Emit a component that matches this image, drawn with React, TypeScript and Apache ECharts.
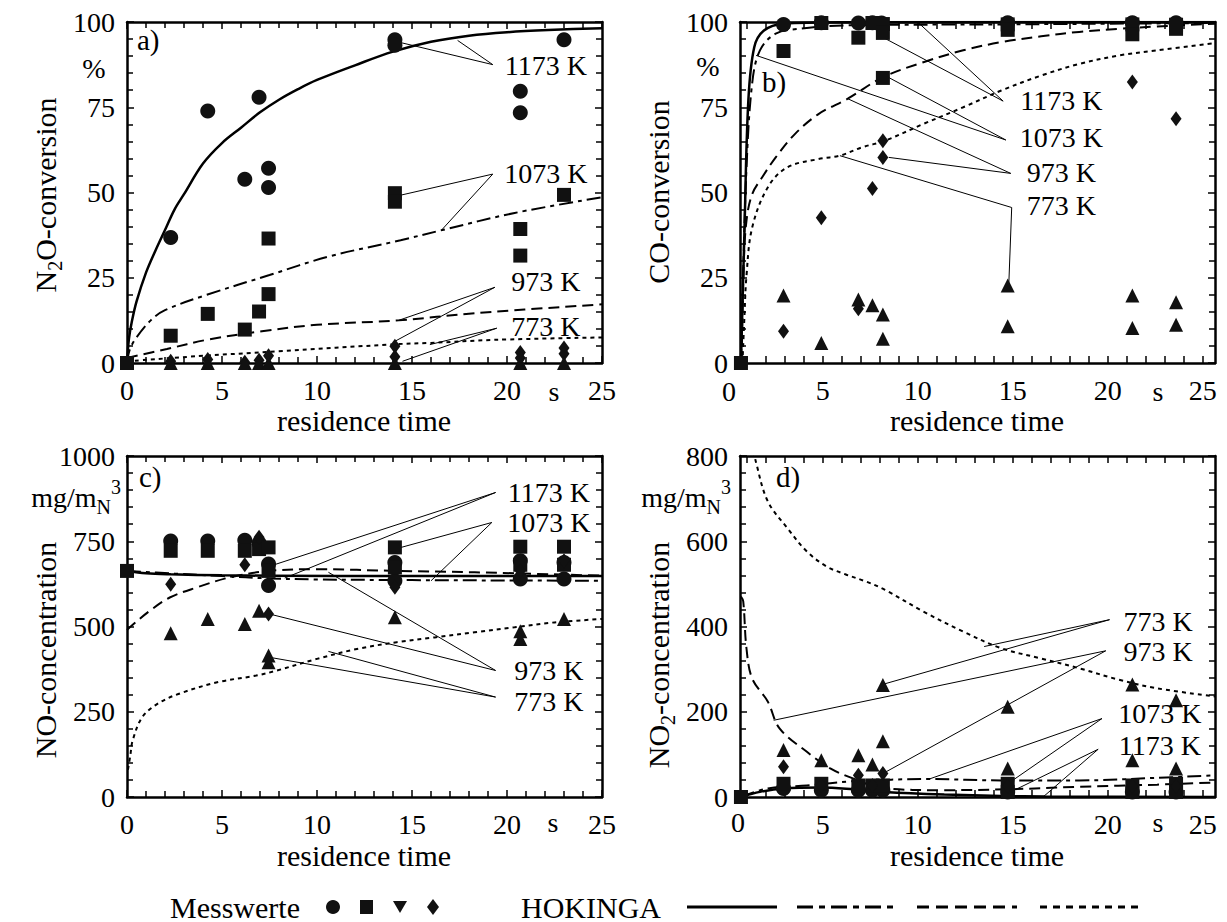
import React, { useEffect, useRef } from "react";
import * as echarts from "echarts";

const FONT = "Liberation Serif";

// ---------- Panel a) N2O-conversion (%) ----------
const a1173Measured = [[2.3,36.8],[4.25,73.9],[6.2,53.9],[6.95,77.9],[7.45,57.1],[7.45,51.5],[14.1,94.8],[14.1,93.2],[20.7,79.7],[20.7,73.4],[23.0,94.8]];
const a1073Measured = [[0,0],[2.3,8.0],[4.25,14.4],[6.2,9.8],[6.95,15.1],[7.45,36.5],[7.45,20.2],[14.1,49.8],[14.1,47.3],[20.7,39.3],[20.7,31.5],[23.0,49.3]];
const a973Measured = [[2.3,0.5],[4.25,1.0],[6.2,0.2],[6.95,0.8],[7.45,2.1],[14.1,4.9],[14.1,1.8],[20.7,3.1],[20.7,1.5],[23.0,4.4],[23.0,2.7]];
const a773Measured = [[2.3,0],[4.25,0],[6.2,0],[6.95,0],[7.45,0],[14.1,0],[20.7,0],[23.0,0]];
const a1173Model = [[0,0],[0.1,7],[0.25,12],[0.5,18],[1,26.5],[1.5,33],[2,39],[2.5,45],[3,49.5],[4,58.5],[5,64.5],[6,69],[7,73.5],[8,77.2],[9,80.3],[10,83],[12,87.3],[14,91.3],[16,94.2],[18,96],[20,97],[22.5,97.7],[25,98.2]];
const a1073Model = [[0,0],[0.15,4],[0.5,7.5],[1.25,12.5],[2,15.5],[4.2,20],[7.5,25.8],[10.6,31.2],[14.4,36],[16.6,39],[20.4,44],[25,48.6]];
const a973Model = [[0,1.5],[2.1,4.1],[4.2,6.8],[7.1,9.3],[10,11.2],[14.3,12.5],[18.3,14.6],[25,17.2]];
const a773Model = [[0,0.5],[3.7,2],[7.9,3.4],[14.1,5.5],[16,5.9],[19.4,6.8],[25,7.5]];
const aNotes = [
  { text: "1173 K", at: [22.05, 87.3], apex: [19.25, 87.5], ends: [[14.08, 94.4], [17.4, 94.6]] },
  { text: "1073 K", at: [22.05, 55.6], apex: [19.25, 55.4], ends: [[14.08, 48.8], [16.56, 39]] },
  { text: "973 K", at: [22.05, 23.9], apex: [19.36, 22.2], ends: [[14.08, 6.3], [14.29, 12.5]] },
  { text: "773 K", at: [22.05, 10.7], apex: [19.46, 10.2], ends: [[15.94, 5.4], [14.5, 0.5]] },
];

// ---------- Panel b) CO-conversion (%) ----------
const b1173Measured = [[2.94,99.3],[4.93,99.8],[6.88,99.7],[7.62,99.8],[8.1,99.7],[14.74,99.8],[21.3,99.8],[23.6,99.8]];
const b1073Measured = [[0.7,0],[2.94,91.5],[4.93,99.7],[6.88,95.4],[7.62,99.7],[8.17,99.4],[8.17,96.8],[8.17,83.6],[14.74,99.3],[14.74,97.7],[21.3,99.3],[21.3,96.4],[23.6,99.2],[23.6,98.0]];
const b973Measured = [[2.94,9.3],[4.93,42.6],[6.88,15.9],[7.62,51.2],[8.17,65.2],[8.17,60.3],[21.3,82.4],[23.6,71.6]];
const b773Measured = [[2.94,19.8],[4.93,5.9],[6.88,18.6],[7.62,16.9],[8.17,14.2],[8.17,7.1],[14.74,22.7],[14.74,10.8],[21.3,19.8],[21.3,10.3],[23.6,17.8],[23.6,11.2]];
const b1173Model = [[0.7,0],[0.88,37.7],[1.09,77],[1.4,92.6],[1.91,97.5],[2.94,99.5],[6.2,99.9],[25.65,100]];
const b1073Model = [[0.7,0],[0.78,18],[0.99,57],[1.29,82],[1.7,91.7],[2.53,96.6],[3.76,98],[6.2,99],[14.4,99.3],[25.65,99.7]];
const b973Model = [[0.74,0],[0.84,27.9],[0.99,41.7],[1.29,49.5],[1.81,54.4],[2.53,60.3],[3.55,67.2],[4.78,73],[6.32,77.5],[8.17,83.8],[10.3,88.2],[12.4,91.7],[14.4,94.1],[16.5,95.8],[18.5,97.1],[20.6,98],[22.6,98.7],[25.65,99.5]];
const b773Model = [[0.78,0],[0.88,13.2],[0.99,25.5],[1.29,39.7],[2.11,51.5],[3.14,57.4],[4.78,59.8],[5.91,60.8],[7.04,63.2],[8.28,65.2],[10.3,70.1],[12.4,75],[14.4,79.9],[16.5,84.3],[18.5,87.7],[20.6,90.2],[22.6,91.7],[25.65,93.8]];
const bNotes = [
  { text: "1173 K", at: [17.56, 77], apex: [14.5, 76.8], ends: [[10.0, 100], [8.07, 95.8]] },
  { text: "1073 K", at: [17.56, 66.2], apex: [14.64, 65.4], ends: [[8.28, 84.3], [1.5, 90.2]] },
  { text: "973 K", at: [17.56, 55.9], apex: [14.9, 55.6], ends: [[8.48, 60.3], [6.32, 77.5]] },
  { text: "773 K", at: [17.56, 46.1], apex: [14.95, 45.6], ends: [[14.8, 23.5], [5.91, 60.8]] },
];

// ---------- Panel c) NO-concentration (mg/mN3) ----------
const c1173Measured = [[2.3,751],[4.25,751],[6.2,753],[6.95,745],[7.45,683],[7.45,620],[14.1,688],[14.1,634],[20.7,693],[20.7,639],[23.0,688],[23.0,639]];
const c1073Measured = [[0,663],[2.3,722],[4.25,722],[6.2,722],[6.95,727],[7.45,732],[7.45,663],[14.1,732],[14.1,673],[20.7,734],[20.7,681],[23.0,734],[23.0,681]];
const c973Measured = [[2.3,624],[6.2,681],[6.95,762],[7.45,537],[14.1,615],[20.7,663],[23.0,693]];
const c773Measured = [[2.3,480],[4.25,522],[6.2,507],[6.95,546],[7.45,415],[7.45,395],[14.1,527],[20.7,486],[20.7,463],[23.0,522]];
const c1173Model = [[0,663],[1,656],[2.3,653],[5,650],[7.5,649],[15,648],[25,648]];
const c1073Model = [[0,663],[2.5,655],[5,648],[7.5,641],[10,638],[15,636],[20,635],[25,634]];
const c973Model = [[0,490],[0.3,505],[1.2,546],[2.25,585],[3.7,615],[5.4,644],[7.5,663],[10,668],[14.2,663],[18.3,659],[25,649]];
const c773Model = [[0.05,80],[0.17,120],[0.3,166],[0.8,234],[1.6,273],[2.7,302],[4.8,337],[6.8,356],[7.9,371],[10,405],[12.1,434],[14.2,454],[16.2,468],[18.3,483],[20.4,498],[22.5,512],[25,522]];
const cNotes = [
  { text: "1173 K", at: [22.2, 893], apex: [19.4, 893], ends: [[7.58, 678], [8.3, 642]] },
  { text: "1073 K", at: [22.2, 805], apex: [19.2, 805], ends: [[14.3, 730], [16.0, 634]] },
  { text: "973 K", at: [22.2, 370], apex: [19.4, 371], ends: [[7.47, 537], [10.6, 659]] },
  { text: "773 K", at: [22.2, 280], apex: [19.4, 293], ends: [[7.47, 410], [10.6, 427]] },
];

// ---------- Panel d) NO2-concentration (mg/mN3) ----------
const d1173Measured = [[2.94,20],[4.93,16],[6.88,16],[7.62,16],[8.17,16],[14.74,12],[21.3,12],[23.6,12]];
const d1073Measured = [[0.7,0],[2.94,31],[4.93,31],[6.88,27],[7.62,27],[8.17,27],[14.74,31],[14.74,12],[21.3,27],[21.3,12],[23.6,31],[23.6,12]];
const d973Measured = [[2.94,71],[4.93,27],[6.88,51],[7.62,27],[8.17,55],[14.74,25],[21.3,25],[23.6,25]];
const d773Measured = [[2.94,110],[4.93,86],[6.88,98],[7.62,76],[8.17,131],[8.17,263],[14.74,212],[14.74,67],[21.3,264],[21.3,86],[23.6,227],[23.6,67]];
const d1173Model = [[0.7,0],[1.7,12],[2.94,20],[4.93,22],[6.63,18],[8.28,12],[11.4,6],[14.4,2.4],[16.7,1],[25.65,0]];
const d1073Model = [[0.7,0],[2.11,20],[4.17,27],[6.63,37],[10.6,42],[14.4,39],[18.5,39],[22.6,45],[25.65,51]];
const d973Model = [[0.7,470],[0.82,459],[0.99,349],[1.29,278],[2.11,224],[2.73,161],[4.17,106],[5.4,67],[6.63,43],[8.28,20],[11.4,16],[14.74,18],[18.5,24],[22.6,29],[25.65,34]];
const d773Model = [[1.3,830],[1.5,784],[2.11,694],[3.14,631],[4.17,576],[5.2,541],[6.22,522],[7.25,506],[8.28,486],[10.3,435],[12.4,388],[14.4,349],[16.5,325],[18.5,302],[20.6,275],[22.6,255],[25.65,236]];
const dNotes = [
  { text: "773 K", at: [22.65, 412], apex: [20.1, 416], ends: [[8.07, 263], [13.5, 353]] },
  { text: "973 K", at: [22.65, 341], apex: [19.9, 343], ends: [[2.42, 180], [8.17, 55]] },
  { text: "1073 K", at: [22.75, 197], apex: [19.7, 184], ends: [[10.6, 42], [14.74, 31]] },
  { text: "1173 K", at: [22.75, 121], apex: [19.5, 112], ends: [[14.95, 13], [16.6, 0]] },
];

// ---------- axes ----------
const xTickLabels = [0, 5, 10, 15, 20, 25];
const xShiftedLabels = [5, 10, 15, 20, 25];
const xShiftedTicks = [1,2,3,4,5,6,7,8,9,10,11,12,13,14,15,16,17,18,19,20,21,22,23,24,25];
const yMaxes = [100, 100, 1000, 800];
const ySteps = [25, 25, 250, 200];

const GRID_POS = [[127, 22], [740, 22], [127, 456], [740, 456]];
const GW = 475, GH = 341;

const MARKERS = [
  { symbol: "circle", size: 15 },
  { symbol: "rect", size: 14 },
  { symbol: "diamond", size: [11, 15] },
  { symbol: "triangle", size: 14 },
];
const CURVE_STYLES = [
  { type: "solid", width: 2.5 },
  { type: [14, 5, 4, 5], width: 2 },
  { type: [11, 6], width: 2 },
  { type: [4, 4], width: 2 },
];

function buildOption() {
  const panels = [
    { measured: [a1173Measured, a1073Measured, a973Measured, a773Measured], models: [a1173Model, a1073Model, a973Model, a773Model], notes: aNotes, shifted: false },
    { measured: [b1173Measured, b1073Measured, b973Measured, b773Measured], models: [b1173Model, b1073Model, b973Model, b773Model], notes: bNotes, shifted: true },
    { measured: [c1173Measured, c1073Measured, c973Measured, c773Measured], models: [c1173Model, c1073Model, c973Model, c773Model], notes: cNotes, shifted: false },
    { measured: [d1173Measured, d1073Measured, d973Measured, d773Measured], models: [d1173Model, d1073Model, d973Model, d773Model], notes: dNotes, shifted: true },
  ];
  const grid = GRID_POS.map((p) => ({ left: p[0], top: p[1], width: GW, height: GH, containLabel: false }));
  const xAxis: any[] = [];
  const yAxis: any[] = [];
  const series: any[] = [];
  const lineStyle = { color: "#000", width: 2.5 };
  const tickStyle = { color: "#000", width: 1.5 };
  panels.forEach((p, i) => {
    ["bottom", "top"].forEach((pos) => {
      const shown = pos === "bottom";
      const ax: any = {
        type: "value", gridIndex: i, position: pos,
        min: p.shifted ? 0.65 : 0, max: p.shifted ? 25.65 : 25,
        axisLine: { show: true, onZero: false, lineStyle },
        axisTick: { show: true, inside: true, length: 7, lineStyle: tickStyle },
        axisLabel: { show: shown, margin: 13, color: "#000", fontSize: 28, fontFamily: FONT, formatter: (v: number) => String(v) },
        splitLine: { show: false },
      };
      if (p.shifted) {
        ax.axisTick.customValues = xShiftedTicks;
        ax.axisLabel.customValues = xShiftedLabels;
      } else {
        ax.interval = 5;
        ax.axisLabel.customValues = xTickLabels;
        ax.minorTick = { show: true, splitNumber: 5, length: 6, lineStyle: tickStyle };
      }
      xAxis.push(ax);
    });
    ["left", "right"].forEach((pos) => {
      const shown = pos === "left";
      yAxis.push({
        type: "value", gridIndex: i, position: pos, min: 0, max: yMaxes[i], interval: ySteps[i],
        axisLine: { show: true, onZero: false, lineStyle },
        axisTick: { show: true, inside: true, length: 7, lineStyle: tickStyle },
        minorTick: { show: true, splitNumber: 5, length: 6, lineStyle: tickStyle },
        axisLabel: { show: shown, margin: 12, color: "#000", fontSize: 28, fontFamily: FONT, formatter: (v: number) => String(v) },
        splitLine: { show: false },
      });
    });
    const xi = 2 * i, yi = 2 * i;
    p.models.forEach((m, k) => {
      series.push({
        type: "line", xAxisIndex: xi, yAxisIndex: yi, data: m, showSymbol: false, symbol: "none",
        smooth: 0.35, clip: true, z: 2, silent: true,
        lineStyle: { color: "#000", width: CURVE_STYLES[k].width, type: CURVE_STYLES[k].type },
      });
    });
    series.push({
      type: "lines", coordinateSystem: "cartesian2d", xAxisIndex: xi, yAxisIndex: yi, z: 3, silent: true,
      lineStyle: { color: "#000", width: 1, opacity: 1 },
      data: p.notes.flatMap((n) => n.ends.map((e) => ({ coords: [n.apex, e] }))),
    });
    p.measured.forEach((pts, k) => {
      series.push({
        type: "scatter", xAxisIndex: xi, yAxisIndex: yi, data: pts, z: 4, silent: true,
        symbol: MARKERS[k].symbol, symbolSize: MARKERS[k].size, clip: false,
        itemStyle: { color: "#111", opacity: 1 },
      });
    });
    series.push({
      type: "scatter", xAxisIndex: xi, yAxisIndex: yi, z: 5, silent: true, symbolSize: 1,
      itemStyle: { color: "rgba(0,0,0,0)" },
      data: p.notes.map((n) => ({ value: n.at, name: n.text })),
      label: {
        show: true, position: "inside", formatter: "{b}", color: "#000", fontSize: 28, fontFamily: FONT,
        align: "center", verticalAlign: "middle", lineHeight: 22, textBorderWidth: 0, textShadowBlur: 0, opacity: 1,
      },
    });
  });

  const txt = (x: number, y: number, text: string, size: number, align = "left") => ({
    type: "text", x, y, silent: true,
    style: { text, fontSize: size, fontFamily: FONT, fill: "#000", align, verticalAlign: "middle" },
  });
  const richSub = {
    n: { fontSize: 30, fontFamily: FONT, lineHeight: 40, color: "#000" },
    s: { fontSize: 20, fontFamily: FONT, lineHeight: 40, verticalAlign: "bottom", color: "#000" },
    u: { fontSize: 20, fontFamily: FONT, lineHeight: 40, verticalAlign: "top", color: "#000" },
    m: { fontSize: 28, fontFamily: FONT, lineHeight: 40, color: "#000" },
  };
  const rotTitle = (x: number, y: number, text: string) => ({
    type: "text", x, y, rotation: Math.PI / 2, silent: true,
    style: { text, rich: richSub, fill: "#000", align: "center", verticalAlign: "middle" },
  });
  const unitLabel = (x: number, y: number) => ({
    type: "text", x, y, silent: true,
    style: { text: "{m|mg/m}{s|N}{u|3}", rich: richSub, fill: "#000", align: "right", verticalAlign: "middle" },
  });

  const graphic: any[] = [
    rotTitle(45, 195, "{n|N}{s|2}{n|O-conversion}"),
    rotTitle(658, 192, "{n|CO-conversion}"),
    rotTitle(45, 650, "{n|NO-concentration}"),
    rotTitle(658, 655, "{n|NO}{s|2}{n|-concentration}"),
    txt(94, 68, "%", 28, "center"),
    txt(708, 66, "%", 28, "center"),
    unitLabel(121, 497),
    unitLabel(731, 497),
    txt(137, 40, "a)", 29),
    txt(762, 82, "b)", 29),
    txt(139, 477, "c)", 29),
    txt(776, 477, "d)", 29),
    txt(554, 391, "s", 28, "center"),
    txt(1158, 391, "s", 28, "center"),
    txt(553, 822, "s", 28, "center"),
    txt(1158, 822, "s", 28, "center"),
    txt(729, 391, "0", 28, "center"),
    txt(738, 822, "0", 28, "center"),
    txt(364, 420, "residence time", 30, "center"),
    txt(977, 420, "residence time", 30, "center"),
    txt(364, 855, "residence time", 30, "center"),
    txt(977, 855, "residence time", 30, "center"),
    // legend
    txt(300, 907, "Messwerte", 30, "right"),
    { type: "circle", shape: { cx: 333, cy: 907, r: 7 }, style: { fill: "#111" } },
    { type: "rect", shape: { x: 360, y: 900, width: 13, height: 14 }, style: { fill: "#111" } },
    { type: "polygon", shape: { points: [[393, 901], [407, 901], [400, 913]] }, style: { fill: "#111" } },
    { type: "polygon", shape: { points: [[433, 899], [439, 907], [433, 915], [427, 907]] }, style: { fill: "#111" } },
    txt(521, 907, "HOKINGA", 30, "left"),
    { type: "line", shape: { x1: 687, y1: 907, x2: 777, y2: 907 }, style: { stroke: "#000", lineWidth: 3 } },
    { type: "line", shape: { x1: 797, y1: 907, x2: 897, y2: 907 }, style: { stroke: "#000", lineWidth: 3, lineDash: [16, 6, 6, 6] } },
    { type: "line", shape: { x1: 917, y1: 907, x2: 1017, y2: 907 }, style: { stroke: "#000", lineWidth: 3, lineDash: [12, 7] } },
    { type: "line", shape: { x1: 1040, y1: 907, x2: 1143, y2: 907 }, style: { stroke: "#000", lineWidth: 3, lineDash: [7, 6] } },
  ];

  return {
    animation: false,
    backgroundColor: "#fff",
    textStyle: { fontFamily: FONT },
    grid, xAxis, yAxis, series, graphic,
  };
}

export default function App() {
  const ref = useRef<HTMLDivElement>(null);
  useEffect(() => {
    if (!ref.current) return;
    const chart = echarts.init(ref.current, undefined, { renderer: "svg" });
    chart.setOption(buildOption() as any);
    return () => chart.dispose();
  }, []);
  return <div ref={ref} style={{ position: "absolute", left: 0, top: 0, width: 1227, height: 922 }} />;
}
